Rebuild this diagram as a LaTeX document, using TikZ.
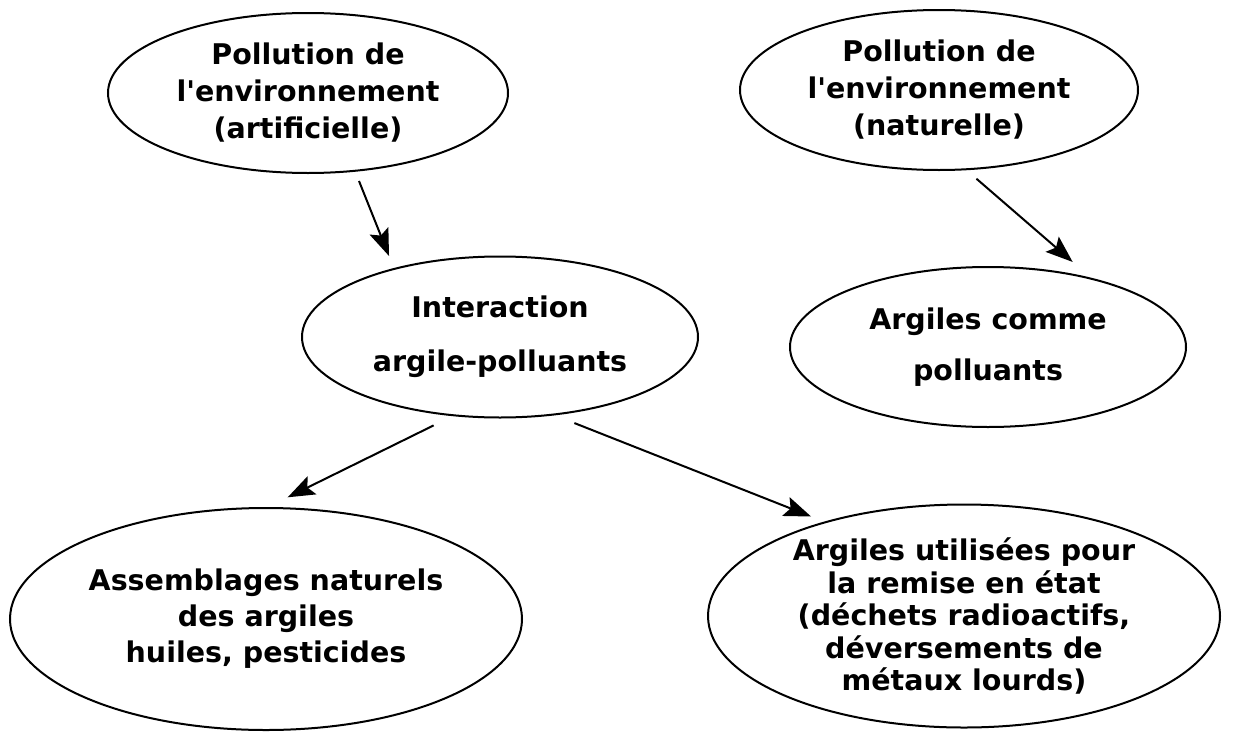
\documentclass[tikz,border=0pt]{standalone}
\usepackage{fontspec}
\setmainfont{DejaVu Sans}
\usetikzlibrary{arrows.meta,shapes.geometric,positioning}

\begin{document}
\begin{tikzpicture}[x=1pt,y=-1pt,->,>={Stealth[length=27pt,width=20pt,inset=5pt]},
                    line width=2pt,
                    blob/.style={ellipse,draw,line width=2pt,inner sep=0pt,align=center,
                                 font=\bfseries\fontsize{28.5pt}{37pt}\selectfont}]

  \useasboundingbox (0,0) rectangle (1237,731);

  \node[blob,minimum width=400pt,minimum height=160pt] (artif)  at (308,93)  {Pollution de\\l\textquotesingle environnement\\(artificielle)};
  \node[blob,minimum width=398pt,minimum height=160pt] (natur)  at (939,90)  {Pollution de\\l\textquotesingle environnement\\(naturelle)};
  \node[blob,minimum width=396pt,minimum height=161pt,
        font=\bfseries\fontsize{28.5pt}{54pt}\selectfont] (inter) at (500,337) {Interaction\\argile-polluants};
  \node[blob,minimum width=396pt,minimum height=160pt,
        font=\bfseries\fontsize{28.5pt}{51pt}\selectfont] (polu)  at (988,347) {Argiles comme\\polluants};
  \node[blob,minimum width=512pt,minimum height=222pt,
        font=\bfseries\fontsize{28.5pt}{36pt}\selectfont] (assem) at (266,619) {Assemblages naturels\\des argiles\\huiles, pesticides};
  \node[blob,minimum width=512pt,minimum height=223pt,inner ysep=-5pt,
        font=\bfseries\fontsize{28.5pt}{32.5pt}\selectfont] (remise) at (964,616)
        {Argiles utilisées pour\\la remise en état\\(déchets radioactifs,\\déversements de\\métaux lourds)};

  \draw[shorten <=10pt,shorten >=13pt] (artif.-59.5) -- (inter.147);
  \draw[shorten <=13pt,shorten >=24pt] (natur.-71.8) -- (polu.34.6);
  \draw[shorten <=21pt,shorten >=22pt] (inter.-121.1) -- (assem.89);
  \draw[shorten <=21pt,shorten >=14pt] (inter.-55.5) -- (remise.146);
\end{tikzpicture}
\end{document}
